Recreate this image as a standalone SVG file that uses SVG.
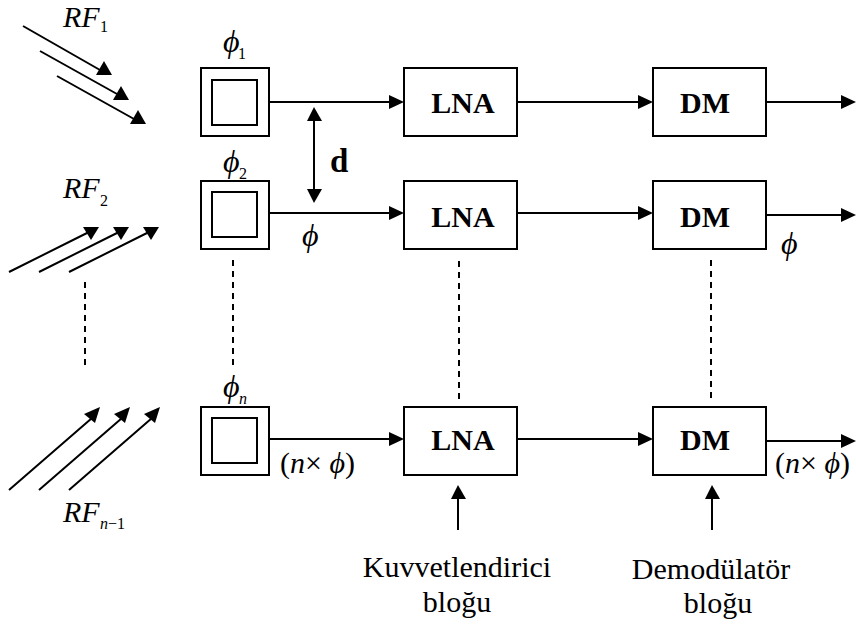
<svg xmlns="http://www.w3.org/2000/svg" width="856" height="626" viewBox="0 0 856 626">
<style>
.b{fill:#fff;stroke:#000;stroke-width:2}
.l{fill:none;stroke:#000;stroke-width:2}
.d{fill:none;stroke:#000;stroke-width:2;stroke-dasharray:6 5}
.a{fill:#000;stroke:none}
text{font-family:"Liberation Serif","Times New Roman",serif;fill:#000}
.m{font-size:30px;font-style:italic}
.f{font-size:32px;font-style:italic}
.s{font-size:16px}
.si{font-size:16px;font-style:italic}
.t{font-size:30px;font-weight:bold;text-anchor:middle}
.c{font-size:30px;text-anchor:middle}
.p{font-size:30px}
</style>
<g id="connectors">
<path class="l" d="M23 26L100 70M40 51L117 94M57 76L134 119"/>
<polygon class="a" points="112,75 96,75 104,61"/><polygon class="a" points="129,100 113,100 121,86"/><polygon class="a" points="146,124 130,124 138,110"/>
<path class="l" d="M9 272L89 232M39 272L119 232M69 272L149 232"/>
<polygon class="a" points="99,227 83,227 91,240"/><polygon class="a" points="129,227 113,227 121,240"/><polygon class="a" points="159,227 143,227 151,240"/>
<path class="l" d="M9 490L92 418M39 490L122 418M69 490L152 418"/>
<polygon class="a" points="100,407 84,414 95,423"/><polygon class="a" points="130,407 114,414 125,423"/><polygon class="a" points="160,407 144,414 155,423"/>
<path class="d" d="M85 282V370M233 260V370M459 261V400M711 260V400"/>
<path class="l" d="M269 102H392M517 102H641M766 102H845M269 213H392M517 213H641M766 215H845M269 439H392M517 439H641M766 441H845"/>
<g class="a">
<polygon points="404,102 389,95 389,109"/><polygon points="653,102 638,95 638,109"/><polygon points="856,102 841,95 841,109"/>
<polygon points="404,213 389,206 389,220"/><polygon points="653,213 638,206 638,220"/><polygon points="856,215 841,208 841,222"/>
<polygon points="404,439 389,432 389,446"/><polygon points="653,439 638,432 638,446"/><polygon points="856,441 841,434 841,448"/>
</g>
<path class="l" d="M314 118V190"/>
<polygon class="a" points="314,107 307,121 322,121"/><polygon class="a" points="314,203 307,189 322,189"/>
<path class="l" d="M458 495V530M712 495V530"/>
<polygon class="a" points="458,485 451,499 466,499"/>
<polygon class="a" points="712,485 705,499 720,499"/>
</g>
<g id="antenna1"><rect class="b" x="201" y="68" width="68" height="68"/><rect class="b" x="212" y="80" width="45" height="45"/></g>
<g id="antenna2"><rect class="b" x="201" y="181" width="68" height="68"/><rect class="b" x="212" y="192" width="45" height="45"/></g>
<g id="antennan"><rect class="b" x="201" y="407" width="68" height="68"/><rect class="b" x="212" y="418" width="45" height="45"/></g>
<g id="lna1"><rect class="b" x="404" y="68" width="113" height="68"/><text class="t" x="463" y="113">LNA</text></g>
<g id="lna2"><rect class="b" x="404" y="181" width="113" height="68"/><text class="t" x="463" y="227">LNA</text></g>
<g id="lnan"><rect class="b" x="404" y="407" width="113" height="68"/><text class="t" x="463" y="450">LNA</text></g>
<g id="dm1"><rect class="b" x="653" y="68" width="113" height="68"/><text class="t" x="705" y="113">DM</text></g>
<g id="dm2"><rect class="b" x="653" y="181" width="113" height="68"/><text class="t" x="705" y="227">DM</text></g>
<g id="dmn"><rect class="b" x="653" y="407" width="113" height="68"/><text class="t" x="705" y="450">DM</text></g>
<g id="labels">
<text class="m" x="63" y="27">RF</text><text class="s" x="100" y="32">1</text>
<text class="m" x="63" y="198">RF</text><text class="s" x="100" y="206">2</text>
<text class="m" x="63" y="522">RF</text><text class="si" x="100" y="529">n</text><text class="s" x="108" y="529">−1</text>
<text class="f" x="223" y="52">ϕ</text><text class="s" x="238" y="59">1</text>
<text class="f" x="223" y="172">ϕ</text><text class="s" x="239" y="179">2</text>
<text class="f" x="223" y="397">ϕ</text><text class="si" x="239" y="404">n</text>
<text class="f" x="302" y="246">ϕ</text>
<text class="f" x="781" y="254">ϕ</text>
<text x="330" y="172" style="font-size:33px;font-weight:bold">d</text>
<text class="p" x="280" y="473">(<tspan font-style="italic">n</tspan>× <tspan font-style="italic">ϕ</tspan>)</text>
<text class="p" x="775" y="473">(<tspan font-style="italic">n</tspan>× <tspan font-style="italic">ϕ</tspan>)</text>
<text class="c" x="457" y="577">Kuvvetlendirici</text><text class="c" x="457" y="612">bloğu</text>
<text class="c" x="711" y="579">Demodülatör</text><text class="c" x="718" y="613">bloğu</text>
</g>
</svg>
